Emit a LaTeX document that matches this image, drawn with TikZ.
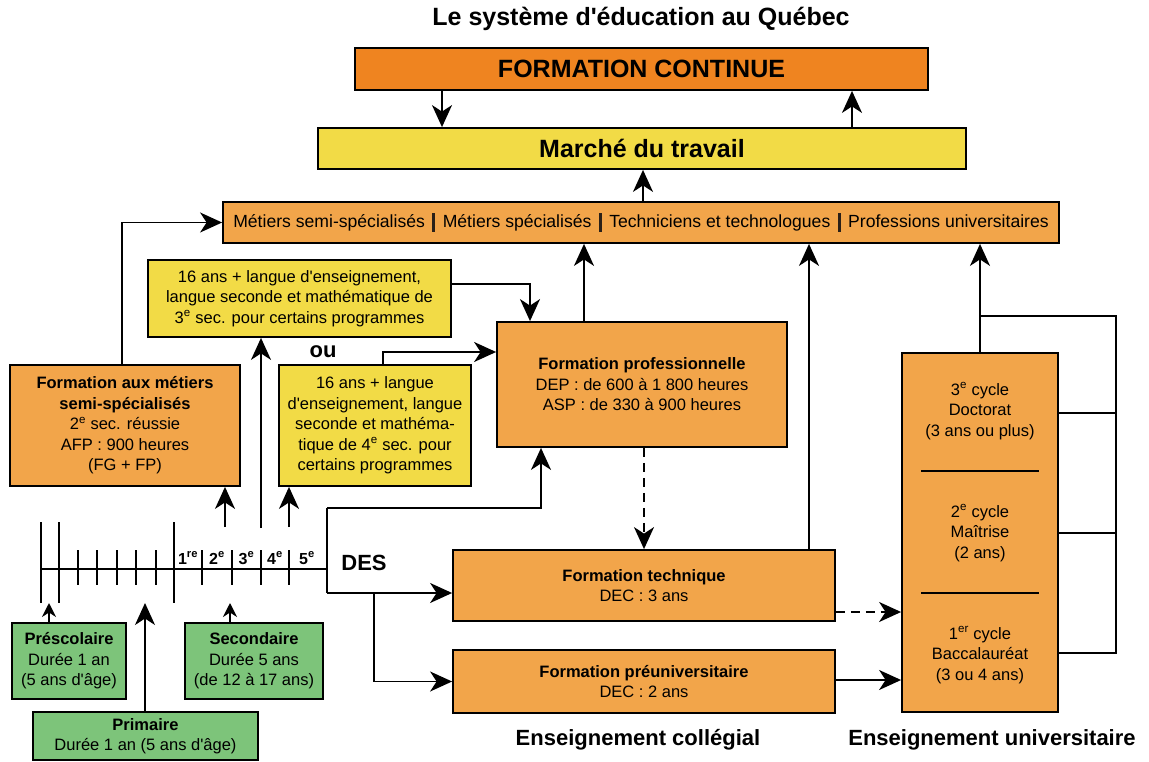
\documentclass[tikz,border=0pt]{standalone}
\usepackage{fontspec}
% plain family: keeps straight apostrophes (no TeX quote mapping)
\newfontfamily\arial{Liberation Sans}
\usetikzlibrary{arrows.meta}

\definecolor{contorange}{HTML}{EF8420}
\definecolor{boxorange}{HTML}{F2A54A}
\definecolor{boxyellow}{HTML}{F2DB46}
\definecolor{boxgreen}{HTML}{7DC47A}
\definecolor{barcol}{HTML}{2A2018}

\newcommand{\bodysize}{\arial\fontsize{16.5}{20.5}\selectfont}
\newcommand{\bigbold}{\arial\fontsize{25}{28}\selectfont\bfseries}
\newcommand{\midbold}{\arial\fontsize{22}{25}\selectfont\bfseries}
\newcommand{\gradebold}{\arial\fontsize{16}{18}\selectfont\bfseries}
\newcommand{\metsep}{\hspace{7.5pt}{\color{barcol}\rule[-4.5pt]{2.8pt}{19pt}}\hspace{7.5pt}}

\begin{document}
\begin{tikzpicture}[x=1pt,y=-1pt,
  box/.style={draw=black, line width=1.8pt, inner sep=0pt, align=center, font=\bodysize},
  conn/.style={line width=1.8pt},
  arr/.style={conn, -{Stealth[length=22pt,width=20pt,inset=6.5pt]}},
  sarr/.style={conn, -{Stealth[length=14pt,width=14pt,inset=4.5pt]}},
  darr/.style={arr, dash pattern=on 9pt off 6pt},
  lbl/.style={inner sep=0pt, align=center}]

\useasboundingbox (0,0) rectangle (1149,762);

% ---- top: title, continuing education, labour market ----
\node[lbl, font=\bigbold] (title) at (641,19) {Le système d'éducation au Québec};
\node[box, fill=contorange, minimum width=573pt, minimum height=42pt, font=\bigbold] (fc) at (641.5,69) {FORMATION CONTINUE};
\node[box, fill=boxyellow, minimum width=648pt, minimum height=41pt, font=\bigbold] (mt) at (642,148.5) {Marché du travail};
\node[box, fill=boxorange, minimum width=836pt, minimum height=41pt, font=\arial\fontsize{17.6}{20}\selectfont] (met) at (641,222.5)
  {Métiers semi-spécialisés\metsep Métiers spécialisés\metsep Techniciens et technologues\metsep Professions universitaires};

% ---- admission conditions and vocational training ----
\node[box, fill=boxyellow, minimum width=303pt, minimum height=77pt] (y1) at (299.5,298.5)
  {16 ans + langue d'enseignement,\\langue seconde et mathématique de\\3\textsuperscript{e} sec. pour certains programmes};
\node[box, fill=boxorange, minimum width=230pt, minimum height=121pt] (fms) at (125,425.5)
  {\textbf{Formation aux métiers}\\\textbf{semi-spécialisés}\\2\textsuperscript{e} sec. réussie\\AFP : 900 heures\\(FG + FP)};
\node[box, fill=boxyellow, minimum width=192pt, minimum height=121pt] (y2) at (375,425.5)
  {16 ans + langue\\d'enseignement, langue\\seconde et mathéma-\\tique de 4\textsuperscript{e} sec. pour\\certains programmes};
\node[lbl, font=\midbold] (ou) at (323,352) {ou};
\node[box, fill=boxorange, minimum width=290pt, minimum height=125pt] (fp) at (642,384.5)
  {\textbf{Formation professionnelle}\\DEP : de 600 à 1 800 heures\\ASP : de 330 à 900 heures};

% ---- college ----
\node[box, fill=boxorange, minimum width=382pt, minimum height=71pt] (ft) at (644,585.5)
  {\textbf{Formation technique}\\DEC : 3 ans};
\node[box, fill=boxorange, minimum width=382pt, minimum height=63pt] (fpu) at (644,681.5)
  {\textbf{Formation préuniversitaire}\\DEC : 2 ans};
\node[lbl, font=\midbold] (lcol) at (638,740) {Enseignement collégial};

% ---- university ----
\node[box, fill=boxorange, minimum width=156pt, minimum height=359pt] (uni) at (980,532.5) {};
\node[lbl, font=\bodysize] (doc) at (980,411) {3\textsuperscript{e} cycle\\Doctorat\\(3 ans ou plus)};
\node[lbl, font=\bodysize] (mai) at (980,533) {2\textsuperscript{e} cycle\\Maîtrise\\(2 ans)};
\node[lbl, font=\bodysize] (bac) at (980,655) {1\textsuperscript{er} cycle\\Baccalauréat\\(3 ou 4 ans)};
\draw[conn] (921,471) -- (1039,471);
\draw[conn] (921,593) -- (1039,593);
\node[lbl, font=\midbold] (luni) at (992,740) {Enseignement universitaire};

% ---- preschool, primary, secondary ----
\node[box, fill=boxgreen, minimum width=114pt, minimum height=76pt] (pre) at (69,661)
  {\textbf{Préscolaire}\\Durée 1 an\\(5 ans d'âge)};
\node[box, fill=boxgreen, minimum width=138pt, minimum height=76pt] (sec) at (254,661)
  {\textbf{Secondaire}\\Durée 5 ans\\(de 12 à 17 ans)};
\node[box, fill=boxgreen, minimum width=225pt, minimum height=48pt] (pri) at (145.5,736)
  {\textbf{Primaire}\\Durée 1 an (5 ans d'âge)};

% ---- school-year timeline ----
\coordinate (tl0) at (40,569);
\coordinate (desT) at (327,508);
\coordinate (desB) at (327,593);
\coordinate (des) at (327,569);
\draw[conn] (tl0) -- (des);
\foreach \x in {41,59,174} \draw[conn] (\x,522) -- (\x,603);
\foreach \x in {78,97,117,136,156,202,232,261,289} \draw[conn] (\x,550) -- (\x,585);
\node[lbl, font=\gradebold] (g1) at (188,558) {1\textsuperscript{re}};
\node[lbl, font=\gradebold] (g2) at (217,558) {2\textsuperscript{e}};
\node[lbl, font=\gradebold] (g3) at (246.5,558) {3\textsuperscript{e}};
\node[lbl, font=\gradebold] (g4) at (275,558) {4\textsuperscript{e}};
\node[lbl, font=\gradebold] (g5) at (307,558) {5\textsuperscript{e}};
\node[lbl, font=\midbold] (deslbl) at (364,563) {DES};

% helper positions for connectors
\coordinate (cx442) at (442,0);
\coordinate (cx852) at (852,0);
\coordinate (cx643) at (643,0);
\coordinate (cx122) at (122,0);
\coordinate (cx530) at (530,0);
\coordinate (cx383) at (383,0);
\coordinate (cx584) at (584,0);
\coordinate (cx809) at (809,0);
\coordinate (cx541) at (541,0);
\coordinate (cx374) at (374,0);
\coordinate (cx1116) at (1116,0);
\coordinate (cy284) at (0,284);
\coordinate (cy352) at (0,352);
\coordinate (cy612) at (0,612);
\coordinate (cy680) at (0,680);
\coordinate (cy316) at (0,316);
\coordinate (cy413) at (0,413);
\coordinate (cy533) at (0,533);
\coordinate (cy653) at (0,653);
\coordinate (up1) at (225,527);
\coordinate (up2) at (261,528);
\coordinate (up3) at (289,527);
\coordinate (tp1) at (49,603);
\coordinate (tp2) at (145,603);
\coordinate (tp3) at (230,603);

% ---- connectors ----
\draw[arr] (fc.south -| cx442) -- (mt.north -| cx442);
\draw[arr] (mt.north -| cx852) -- (fc.south -| cx852);
\draw[arr] (met.north -| cx643) -- (mt.south -| cx643);
\draw[arr] (fms.north -| cx122) |- (met.west);
\draw[arr] (y1.east |- cy284) -| (fp.north -| cx530);
\draw[arr] (y2.north -| cx383) |- (fp.west |- cy352);
\draw[arr] (fp.north -| cx584) -- (met.south -| cx584);
\draw[darr] (fp.south -| ft.north) -- (ft.north);
\draw[arr] (ft.north -| cx809) -- (met.south -| cx809);
\draw[darr] (ft.east |- cy612) -- (uni.west |- cy612);
\draw[arr] (fpu.east |- cy680) -- (uni.west |- cy680);
\draw[arr] (uni.north) -- (met.south -| uni.north);
\draw[conn] (uni.north |- cy316) -| (cx1116 |- cy653) -- (uni.east |- cy653);
\draw[conn] (uni.east |- cy413) -- (cx1116 |- cy413);
\draw[conn] (uni.east |- cy533) -- (cx1116 |- cy533);

\draw[conn] (desT) -- (desB);
\draw[arr] (desT) -| (fp.south -| cx541);
\draw[arr] (desB) -- (ft.west |- desB);
\draw[arr] (desB -| cx374) |- (fpu.west);

\draw[arr] (up1) -- (fms.south -| up1);
\draw[arr] (up2) -- (y1.south -| up2);
\draw[arr] (up3) -- (y2.south -| up3);

\draw[sarr] (pre.north -| tp1) -- (tp1);
\draw[arr] (pri.north -| tp2) -- (tp2);
\draw[sarr] (sec.north -| tp3) -- (tp3);

\end{tikzpicture}
\end{document}
